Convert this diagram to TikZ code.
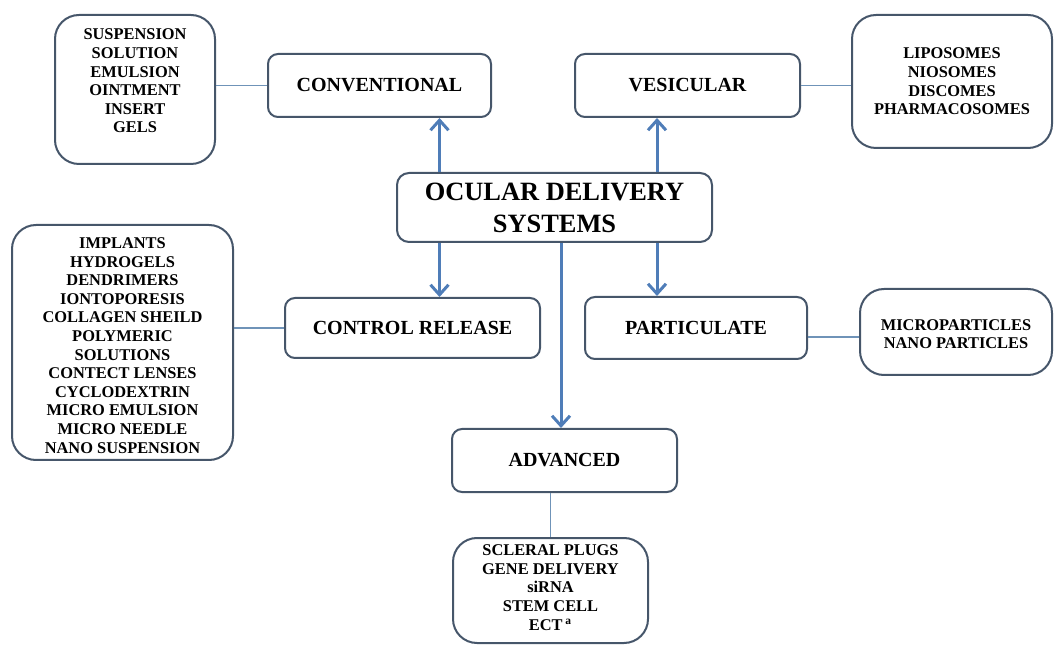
\documentclass[tikz,border=0pt]{standalone}
\usepackage{fontspec}
\setmainfont{Liberation Serif}
\usetikzlibrary{arrows.meta,calc}
\definecolor{boxc}{HTML}{46566A}
\definecolor{arrc}{HTML}{4F7DB8}
\definecolor{linec}{HTML}{6F93B8}
\begin{document}
\begin{tikzpicture}[x=0.5pt,y=-0.5pt,
  cat/.style={draw=boxc,line width=1pt,rounded corners=5pt,fill=white,align=center,
    font=\bfseries\fontsize{10}{12}\selectfont,inner sep=0pt},
  itembox/.style={draw=boxc,line width=1pt,rounded corners=12pt,inner sep=0pt},
  itemtext/.style={align=center,font=\bfseries\fontsize{8.2}{9.3}\selectfont,inner sep=0pt},
  maintext/.style={draw=boxc,line width=1pt,rounded corners=6pt,align=center,
    font=\bfseries\fontsize{13.2}{16}\selectfont,inner sep=0pt},
  arr/.style={draw=arrc,line width=1.5pt,-{Straight Barb[length=5pt,width=9pt,line width=1.5pt]}},
  thin/.style={draw=linec,line width=0.9pt}]
\useasboundingbox (0,0) rectangle (1060,646);
% category boxes
\node[maintext,minimum width=157.5pt,minimum height=34.5pt] (oc) at (554.5,207.5) {OCULAR DELIVERY\\SYSTEMS};
\node[cat,minimum width=111.5pt,minimum height=31.5pt] (conv) at (379.5,85.5) {CONVENTIONAL};
\node[cat,minimum width=112.5pt,minimum height=31.5pt] (vesi) at (687.5,85.5) {VESICULAR};
\node[cat,minimum width=127.5pt,minimum height=30pt] (ctrl) at (412.5,328) {CONTROL RELEASE};
\node[cat,minimum width=111pt,minimum height=31pt] (part) at (696,328) {PARTICULATE};
\node[cat,minimum width=112.5pt,minimum height=31.5pt] (adv) at (564.5,460.5) {ADVANCED};
% item boxes
\node[itembox,minimum width=80pt,minimum height=74.5pt] (ci) at (135,89.5) {};
\node[itemtext] (cit) at (135,81) {SUSPENSION\\SOLUTION\\EMULSION\\OINTMENT\\INSERT\\GELS};
\node[itembox,minimum width=100pt,minimum height=66.5pt] (vi) at (952,81.5) {};
\node[itemtext] (vit) at (952,81.5) {LIPOSOMES\\NIOSOMES\\DISCOMES\\PHARMACOSOMES};
\node[itembox,minimum width=110.5pt,minimum height=117.5pt] (ti) at (122.5,342.5) {};
\node[itemtext] (tit) at (122.5,345.5) {IMPLANTS\\HYDROGELS\\DENDRIMERS\\IONTOPORESIS\\COLLAGEN SHEILD\\POLYMERIC\\SOLUTIONS\\CONTECT LENSES\\CYCLODEXTRIN\\MICRO EMULSION\\MICRO NEEDLE\\NANO SUSPENSION};
\node[itembox,minimum width=96pt,minimum height=43pt] (pi) at (956,332) {};
\node[itemtext] (pit) at (956,334) {MICROPARTICLES\\NANO PARTICLES};
\node[itembox,minimum width=97.5pt,minimum height=52.5pt] (ai) at (550.5,590.5) {};
\node[itemtext] (ait) at (550.5,587.5) {SCLERAL PLUGS\\GENE DELIVERY\\siRNA\\STEM CELL\\ECT\,\textsuperscript{a}};
% thin connectors
\draw[thin] (conv.west) -- (conv.west -| ci.east);
\draw[thin] (vesi.east) -- (vesi.east -| vi.west);
\draw[thin] (ctrl.west) -- (ctrl.west -| ti.east);
\draw[thin] ([yshift=-2.5pt]pi.west) -- ([yshift=-2.5pt]pi.west -| part.east);
\draw[thin] (ai.north) -- (ai.north |- adv.south);
% arrows
\path (oc.north) ++(-115,0) coordinate (u1);
\path (oc.north) ++(102.5,0) coordinate (u2);
\path (oc.south) ++(-115,0) coordinate (d1);
\path (oc.south) ++(102.5,0) coordinate (d2);
\path (oc.south) ++(6.5,0) coordinate (d3);
\draw[arr] (u1) -- (u1 |- conv.south);
\draw[arr] (u2) -- (u2 |- vesi.south);
\draw[arr] (d1) -- (d1 |- ctrl.north);
\draw[arr] (d2) -- (d2 |- part.north);
\draw[arr] (d3) -- (d3 |- adv.north);
\end{tikzpicture}
\end{document}
